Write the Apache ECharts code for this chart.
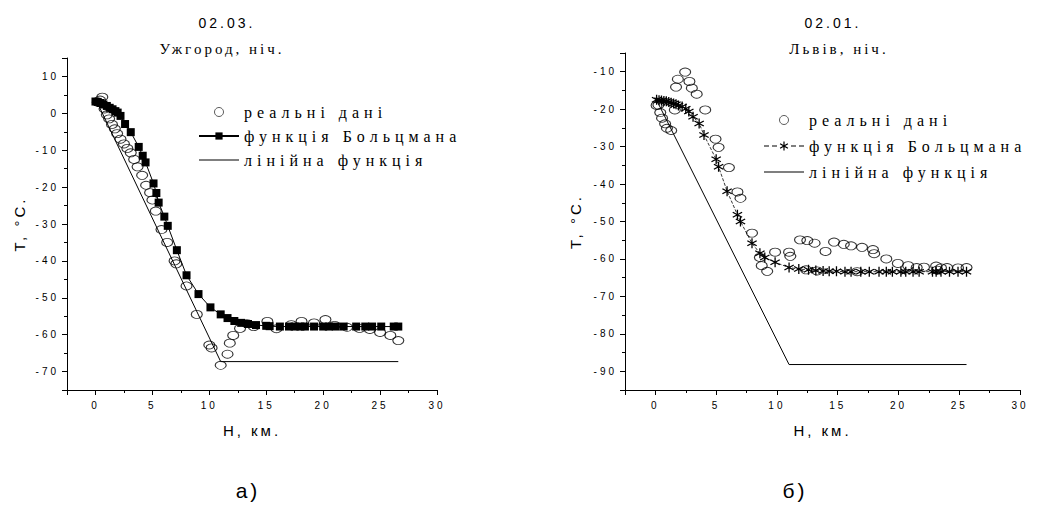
<!DOCTYPE html>
<html>
<head>
<meta charset="utf-8">
<title>Температура, ніч</title>
<script src="https://cdn.jsdelivr.net/npm/echarts@6.0.0/dist/echarts.min.js"></script>
<style>
    html, body { margin: 0; padding: 0; background: #fff; }
    #main { width: 1052px; height: 509px; }
    /* розрядка як на скані */
    #main text { letter-spacing: 3px; }
    #main text[style*="16px"] { letter-spacing: 5px; }
</style>
</head>
<body>
<div id="main"></div>
<script>
// а) Ужгород 02.03, ніч
var uzhRealH = [0.2, 0.4, 0.6, 0.8, 1.0, 1.2, 1.45, 1.7, 1.9, 2.2, 2.5, 2.8, 3.1, 3.4, 3.7, 4.1, 4.45, 4.8, 5.0, 5.3,
    5.8, 6.3, 6.95, 7.1, 8.0, 8.9, 10.0, 10.2, 11.0, 11.6, 11.8, 12.1, 12.7, 13.3, 13.9, 15.1, 15.9, 17.2, 18.1, 19.2,
    20.2, 21.0, 22.1, 23.2, 24.1, 25.0, 25.9, 26.6];
var uzhRealT = [3.0, 3.6, 4.4, 1.2, -0.4, -1.5, -3.0, -4.2, -5.5, -7.0, -8.3, -9.5, -10.7, -12.5, -14.5, -16.8, -19.5, -21.5, -23.5, -26.5,
    -31.5, -35.0, -40.0, -40.8, -46.8, -54.5, -62.8, -63.6, -68.3, -65.3, -62.3, -60.2, -58.3, -57.0, -57.8, -56.4, -58.4, -57.3, -56.4, -56.8,
    -55.9, -57.5, -58.0, -58.3, -58.6, -59.4, -60.2, -61.6];
var uzhBoltzH = [0.0, 0.2, 0.45, 0.7, 1.0, 1.25, 1.5, 1.75, 1.95, 2.2, 2.6, 3.1, 3.8, 4.15, 4.4, 5.1, 5.35, 5.55, 6.05, 6.35,
    7.15, 8.0, 9.05, 10.1, 11.0, 11.6, 12.2, 12.8, 13.4, 14.1, 15.0, 15.3, 16.2, 17.0, 17.5, 18.0, 18.4, 19.2, 20.0, 20.5,
    21.1, 21.8, 22.9, 23.7, 24.3, 25.1, 26.2, 26.6];
var uzhBoltzT = [3.2, 3.1, 2.8, 2.4, 2.0, 1.5, 1.1, 0.6, 0.2, -0.7, -2.9, -5.1, -9.1, -11.5, -13.3, -19.0, -21.6, -24.2, -28.0, -30.5,
    -37.1, -43.9, -49.0, -52.6, -54.5, -55.5, -56.3, -56.8, -57.1, -57.4, -57.6, -57.7, -57.8, -57.8, -57.8, -57.8, -57.8, -57.8, -57.8, -57.8,
    -57.8, -57.8, -57.8, -57.8, -57.8, -57.8, -57.8, -57.8];
var uzhLinH = [0.1, 11.0, 26.6];
var uzhLinT = [3.3, -67.3, -67.3];

// б) Львів 02.01, ніч
var lvivRealH = [0.1, 0.25, 0.4, 0.55, 0.8, 0.95, 1.3, 1.6, 1.7, 1.85, 2.45, 2.8, 3.0, 3.4, 4.1, 4.95, 5.2, 6.05, 6.75, 7.0,
    7.95, 8.6, 8.75, 9.2, 9.85, 11.0, 11.1, 11.9, 12.5, 13.1, 14.0, 14.7, 15.5, 16.1, 17.0, 17.9, 18.0, 19.0, 19.95, 20.8,
    21.5, 22.1, 23.1, 23.5, 24.0, 24.9, 25.6, 12.4, 13.3, 16.6, 23.2];
var lvivRealT = [-19.0, -18.9, -20.9, -22.4, -23.9, -25.1, -25.7, -20.2, -14.1, -12.0, -10.1, -12.6, -14.4, -16.0, -20.2, -28.0, -30.2, -35.6, -42.1, -43.8,
    -53.1, -59.6, -61.8, -63.3, -58.2, -58.2, -59.3, -54.9, -55.1, -55.8, -58.0, -55.5, -56.1, -56.5, -56.9, -57.5, -58.6, -60.0, -61.2, -61.8,
    -62.3, -62.2, -61.9, -62.4, -62.3, -62.4, -62.3, -62.9, -63.2, -63.4, -63.0];
var lvivBoltzH = [0.1, 0.3, 0.5, 0.7, 0.9, 1.1, 1.3, 1.5, 1.7, 1.9, 2.2, 2.5, 2.75, 3.1, 3.6, 4.0, 5.0, 5.2, 5.9, 6.75,
    7.0, 7.95, 8.6, 9.0, 9.85, 11.0, 11.8, 12.6, 13.2, 13.8, 14.3, 14.9, 15.6, 16.1, 16.9, 17.6, 18.4, 19.0, 19.5, 20.2,
    20.6, 21.2, 21.7, 22.8, 23.1, 23.5, 24.2, 24.9, 25.6];
var lvivBoltzT = [-17.5, -17.6, -17.7, -17.8, -17.9, -18.1, -18.3, -18.5, -18.7, -19.0, -19.3, -19.9, -20.6, -22.0, -23.8, -26.9, -33.4, -35.4, -41.9, -48.2,
    -50.0, -55.8, -58.5, -59.6, -60.9, -62.3, -62.7, -62.9, -63.1, -63.2, -63.3, -63.3, -63.4, -63.4, -63.4, -63.4, -63.4, -63.4, -63.4, -63.4,
    -63.4, -63.4, -63.4, -63.4, -63.4, -63.4, -63.4, -63.4, -63.4];
var lvivLinH = [0.1, 11.0, 25.6];
var lvivLinT = [-17.6, -88.2, -88.2];

var seriesNames = ['реальні дані', 'функція Больцмана', 'лінійна функція'];

// зірочка (3 перехрещені планки)
var starPath = 'path://M-0.6,-5L0.6,-5L0.6,5L-0.6,5Z' +
    'M4.63,1.98L4.03,3.02L-4.63,-1.98L-4.03,-3.02Z' +
    'M4.03,-3.02L4.63,-1.98L-4.03,3.02L-4.63,1.98Z';
// значки легенди: тонка лінія / пунктир із зірочкою (40x10)
var lineIcon = 'path://M0,4.5L40,4.5L40,5.5L0,5.5Z';
var starLineIcon = 'path://M0,4.6L5,4.6L5,5.4L0,5.4Z M8,4.6L13,4.6L13,5.4L8,5.4Z' +
    'M27,4.6L32,4.6L32,5.4L27,5.4Z M35,4.6L40,4.6L40,5.4L35,5.4Z' +
    'M19.4,0.5L20.6,0.5L20.6,9.5L19.4,9.5Z' +
    'M24.2,6.73L23.6,7.77L15.8,3.27L16.4,2.23Z' +
    'M23.6,2.23L24.2,3.27L16.4,7.77L15.8,6.73Z';

function pts(h, t) {
    return h.map(function(v, i) {
        return [v, t[i]];
    });
}

function xAx(gi) {
    return {
        type: 'value',
        gridIndex: gi,
        min: -2.5,
        max: 30,
        splitNumber: 6,
        name: 'H, км.',
        nameLocation: 'middle',
        nameGap: 33,
        nameTextStyle: { fontSize: 15, fontFamily: 'Liberation Sans', color: '#000' },
        axisLine: { onZero: false, lineStyle: { color: '#000', width: 1 } },
        axisTick: { length: 5, lineStyle: { color: '#000' } },
        minorTick: { show: true, splitNumber: 2, length: 3, lineStyle: { color: '#000' } },
        splitLine: { show: false },
        axisLabel: {
            margin: 10,
            fontSize: 10,
            color: '#000',
            fontFamily: 'Liberation Sans',
            formatter: function(v) {
                return v % 5 === 0 ? v : '';
            }
        }
    };
}

function yAx(gi, min, max, gap) {
    return {
        type: 'value',
        gridIndex: gi,
        min: min,
        max: max,
        splitNumber: 9,
        name: 'T, °C.',
        nameLocation: 'middle',
        nameGap: gap,
        nameTextStyle: { fontSize: 15, fontFamily: 'Liberation Sans', color: '#000' },
        axisLine: { show: true, onZero: false, lineStyle: { color: '#000', width: 1 } },
        axisTick: { show: true, length: 5, lineStyle: { color: '#000' } },
        minorTick: { show: true, splitNumber: 2, length: 3, lineStyle: { color: '#000' } },
        splitLine: { show: false },
        axisLabel: {
            margin: 8,
            fontSize: 10,
            color: '#000',
            fontFamily: 'Liberation Sans',
            formatter: function(v) {
                return v % 10 === 0 ? v : '';
            }
        }
    };
}

function legendBox(left, top, gap, boltzItem) {
    return {
        orient: 'vertical',
        left: left,
        top: top,
        itemWidth: 40,
        itemHeight: 9,
        itemGap: gap,
        selectedMode: false,
        textStyle: { fontSize: 16, lineHeight: 16, fontFamily: 'Liberation Serif', color: '#000' },
        data: [
            { name: seriesNames[0], itemStyle: { borderWidth: 0.8 } },
            boltzItem,
            { name: seriesNames[2], icon: lineIcon }
        ]
    };
}

var ringStyle = { color: 'rgba(255,255,255,0)', borderColor: '#000', borderWidth: 1 };

var myChart = echarts.init(document.getElementById('main'), null, { renderer: 'svg' });
var option = {
    animation: false,
    backgroundColor: '#fff',
    title: [
        { text: '02.03.', left: 222, top: 11, textAlign: 'center', textStyle: { fontSize: 14, fontWeight: 'normal', fontFamily: 'Liberation Sans', color: '#000' } },
        { text: 'Ужгород, ніч.', left: 217, top: 36, textAlign: 'center', textStyle: { fontSize: 15, fontWeight: 'normal', fontFamily: 'Liberation Serif', color: '#000' } },
        { text: '02.01.', left: 828, top: 11, textAlign: 'center', textStyle: { fontSize: 14, fontWeight: 'normal', fontFamily: 'Liberation Sans', color: '#000' } },
        { text: 'Львів, ніч.', left: 834, top: 36, textAlign: 'center', textStyle: { fontSize: 15, fontWeight: 'normal', fontFamily: 'Liberation Serif', color: '#000' } }
    ],
    legend: [
        legendBox(193, 99, 8, { name: seriesNames[1] }),
        legendBox(759, 107, 10, { name: seriesNames[1], icon: starLineIcon })
    ],
    grid: [
        { left: 67, top: 58, width: 370, height: 332 },
        { left: 625, top: 53, width: 395, height: 337 }
    ],
    xAxis: [xAx(0), xAx(1)],
    yAxis: [yAx(0, -75, 15, 40), yAx(1, -95, -5, 42)],
    graphic: [
        { type: 'text', x: 248, y: 490, style: { text: 'а)', font: '21px "Liberation Sans"', align: 'center', verticalAlign: 'middle', fill: '#000' } },
        { type: 'text', x: 795, y: 490, style: { text: 'б)', font: '21px "Liberation Sans"', align: 'center', verticalAlign: 'middle', fill: '#000' } }
    ],
    series: [
        {
            name: seriesNames[0], type: 'scatter', xAxisIndex: 0, yAxisIndex: 0,
            symbol: 'circle', symbolSize: [11, 8], itemStyle: ringStyle,
            data: pts(uzhRealH, uzhRealT)
        },
        {
            name: seriesNames[2], type: 'line', xAxisIndex: 0, yAxisIndex: 0,
            symbol: 'none', lineStyle: { color: '#000', width: 1 }, itemStyle: { color: '#000' },
            data: pts(uzhLinH, uzhLinT)
        },
        {
            name: seriesNames[1], type: 'line', xAxisIndex: 0, yAxisIndex: 0,
            symbol: 'rect', symbolSize: 8, itemStyle: { color: '#000' },
            lineStyle: { color: '#000', width: 1 },
            data: pts(uzhBoltzH, uzhBoltzT)
        },
        {
            name: seriesNames[0], type: 'scatter', xAxisIndex: 1, yAxisIndex: 1,
            symbol: 'circle', symbolSize: [11, 8], itemStyle: ringStyle,
            data: pts(lvivRealH, lvivRealT)
        },
        {
            name: seriesNames[2], type: 'line', xAxisIndex: 1, yAxisIndex: 1,
            symbol: 'none', lineStyle: { color: '#000', width: 1 }, itemStyle: { color: '#000' },
            data: pts(lvivLinH, lvivLinT)
        },
        {
            name: seriesNames[1], type: 'line', xAxisIndex: 1, yAxisIndex: 1,
            symbol: starPath, symbolSize: 10, itemStyle: { color: '#000' },
            lineStyle: { color: '#000', width: 0.8, type: 'dashed' },
            data: pts(lvivBoltzH, lvivBoltzT)
        }
    ]
};
myChart.setOption(option);
</script>
</body>
</html>
